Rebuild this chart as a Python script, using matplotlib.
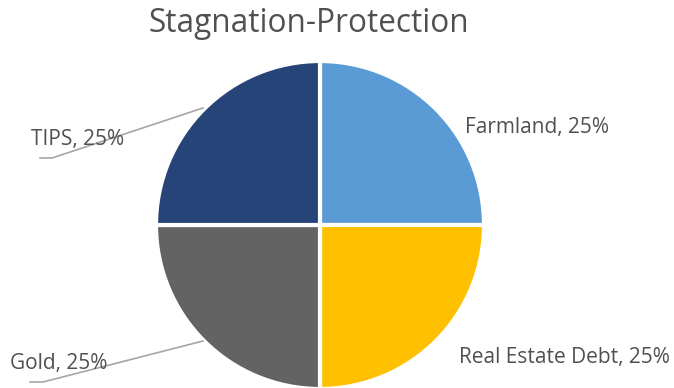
import matplotlib
matplotlib.use("Agg")
import matplotlib.pyplot as plt

labels = ["Farmland", "Real Estate Debt", "Gold", "TIPS"]
shares = [25, 25, 25, 25]
colors = ["#5B9BD5", "#FFC000", "#636363", "#264478"]

W, H = 674, 388
plt.rcParams['font.family'] = ['Open Sans', 'DejaVu Sans']

fig = plt.figure(figsize=(W / 100, H / 100), dpi=100)
ax = fig.add_axes([0, 0, 1, 1])


def py(y):
    # top-down pixel -> data
    return H - y


ax.pie(shares, colors=colors, startangle=90, counterclock=False,
       center=(320, py(225)), radius=164, frame=True,
       wedgeprops=dict(edgecolor="white", linewidth=3))
ax.set_xlim(0, W)
ax.set_ylim(0, H)
ax.axis("off")

ax.text(309, py(23), "Stagnation-Protection", ha="center", va="center",
        fontsize=22.7, color="#505050")

txt = "#505050"
lab_pos = {
    "Farmland": (465, 127),
    "Real Estate Debt": (459, 357),
    "TIPS": (31, 139),
    "Gold": (10, 364),
}
for name, v in zip(labels, shares):
    x, y = lab_pos[name]
    ax.text(x, py(y), f"{name}, {v}%", ha="left", va="center",
            fontsize=15, color=txt)

# leader lines
lc = "#A6A6A6"
ax.plot([203, 52, 40], [py(108), py(158), py(158)], color=lc, lw=1.2)
ax.plot([203, 43, 30], [py(341), py(382), py(382)], color=lc, lw=1.2)

fig.savefig("out.png", dpi=100)
